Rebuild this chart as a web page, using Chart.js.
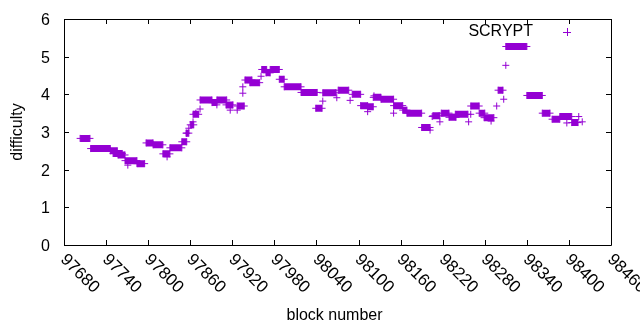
<!DOCTYPE html>
<html>
<head>
<meta charset="utf-8">
<script src="https://cdn.jsdelivr.net/npm/chart.js@4/dist/chart.umd.min.js"></script>
<style>
  html, body { margin: 0; padding: 0; background: #fff; }
  #wrap { width: 640px; height: 330px; }
</style>
</head>
<body>
<div id="wrap"><canvas id="canvas" width="640" height="330"></canvas></div>
<script>
// runs of blocks at the same difficulty (start block, end block, difficulty)
const runStart = [97703, 97718, 97746, 97750, 97757, 97767, 97784, 97797, 97807, 97821,
                  97831, 97848, 97854, 97860, 97864, 97874, 97891, 97898, 97911, 97927,
                  97938, 97945, 97962, 97968, 97974, 97987, 97994, 98018, 98039, 98049,
                  98071, 98091, 98103, 98113, 98121, 98132, 98150, 98163, 98169, 98190,
                  98206, 98218, 98229, 98238, 98260, 98272, 98279, 98299, 98310, 98340,
                  98362, 98376, 98387, 98404];
const runEnd   = [97717, 97746, 97756, 97763, 97767, 97784, 97795, 97807, 97821, 97831,
                  97848, 97855, 97858, 97865, 97872, 97891, 97898, 97912, 97921, 97937,
                  97948, 97959, 97969, 97974, 97987, 97994, 98018, 98041, 98048, 98068,
                  98086, 98103, 98113, 98121, 98132, 98150, 98163, 98169, 98190, 98202,
                  98216, 98229, 98239, 98256, 98272, 98280, 98293, 98306, 98340, 98362,
                  98373, 98387, 98404, 98413];
const runDiff  = [2.83, 2.56, 2.50, 2.43, 2.39, 2.24, 2.16, 2.71, 2.66, 2.42,
                  2.58, 2.74, 2.97, 3.19, 3.47, 3.85, 3.78, 3.85, 3.72, 3.69,
                  4.38, 4.31, 4.66, 4.57, 4.66, 4.40, 4.20, 4.05, 3.63, 4.04,
                  4.11, 4.00, 3.70, 3.67, 3.92, 3.87, 3.70, 3.58, 3.50, 3.12,
                  3.43, 3.50, 3.39, 3.47, 3.69, 3.50, 3.38, 4.11, 5.27, 3.97,
                  3.50, 3.34, 3.41, 3.25];

// single blocks away from the runs
const oddBlock = [97771, 97827, 97855, 97858, 97864, 97868, 97874, 97898, 97917, 97927,
                  97935, 97935, 97961, 98049, 98069, 98088, 98113, 98122, 98150, 98202,
                  98205, 98216, 98257, 98260, 98289, 98297, 98307, 98310, 98397, 98414,
                  98419];
const oddDiff  = [2.12, 2.34, 2.97, 3.10, 3.27, 3.50, 3.61, 3.72, 3.58, 3.58,
                  4.20, 4.03, 4.48, 3.82, 3.91, 3.84, 3.54, 3.96, 3.50, 3.05,
                  3.41, 3.27, 3.27, 3.47, 3.29, 3.69, 3.87, 4.77, 3.24, 3.41,
                  3.27];

const xTicks = [97680, 97740, 97800, 97860, 97920, 97980, 98040, 98100, 98160, 98220, 98280, 98340, 98400, 98460];
const yTicks = [0, 1, 2, 3, 4, 5, 6];

const purple = '#9400d3';
const font = '16px "Liberation Sans", Arial, sans-serif';

// runs as horizontal bars, broken by null points
let runLine = [];
let crossPts = [];
for (let i = 0; i < runStart.length; i++) {
    runLine.push({ x: runStart[i], y: runDiff[i] });
    runLine.push({ x: runEnd[i], y: runDiff[i] });
    runLine.push({ x: runEnd[i], y: null });
    crossPts.push({ x: runStart[i], y: runDiff[i] });
    crossPts.push({ x: runEnd[i], y: runDiff[i] });
}
for (let i = 0; i < oddBlock.length; i++) {
    crossPts.push({ x: oddBlock[i], y: oddDiff[i] });
}

const gnuplotAxes = {
    id: 'gnuplotAxes',
    afterDraw(chart) {
        const ctx = chart.ctx;
        const a = chart.chartArea;
        const xs = chart.scales.x, ys = chart.scales.y;
        ctx.save();
        ctx.strokeStyle = '#000';
        ctx.lineWidth = 1;
        ctx.beginPath();
        ctx.rect(a.left + 0.5, a.top + 0.5, a.right - a.left, a.bottom - a.top);
        // inward ticks, mirrored
        xTicks.forEach(v => {
            const px = Math.round(xs.getPixelForValue(v)) + 0.5;
            ctx.moveTo(px, a.bottom); ctx.lineTo(px, a.bottom - 5);
            ctx.moveTo(px, a.top); ctx.lineTo(px, a.top + 5);
        });
        yTicks.forEach(v => {
            const py = Math.round(ys.getPixelForValue(v)) + 0.5;
            ctx.moveTo(a.left, py); ctx.lineTo(a.left + 5, py);
            ctx.moveTo(a.right, py); ctx.lineTo(a.right - 5, py);
        });
        ctx.stroke();

        ctx.fillStyle = '#000';
        ctx.font = font;
        ctx.textAlign = 'right';
        ctx.textBaseline = 'middle';
        yTicks.forEach(v => {
            ctx.fillText(String(v), a.left - 14, ys.getPixelForValue(v) + 1.5);
        });
        ctx.textAlign = 'left';
        ctx.font = '17px "Liberation Sans", Arial, sans-serif';
        xTicks.forEach(v => {
            ctx.save();
            ctx.translate(xs.getPixelForValue(v) - 1, a.bottom + 12);
            ctx.rotate(Math.PI / 4);
            ctx.fillText(String(v), 0, 0);
            ctx.restore();
        });
        ctx.font = font;

        // axis titles
        ctx.textAlign = 'center';
        ctx.fillText('block number', (a.left + a.right) / 2 - 3, 316);
        ctx.save();
        ctx.translate(18, (a.top + a.bottom) / 2);
        ctx.rotate(-Math.PI / 2);
        ctx.fillText('difficulty', 0, 0);
        ctx.restore();

        // key
        ctx.textAlign = 'right';
        ctx.fillText('SCRYPT', 533, 32);
        ctx.strokeStyle = purple;
        ctx.beginPath();
        ctx.moveTo(563, 32.5); ctx.lineTo(571, 32.5);
        ctx.moveTo(567.5, 28); ctx.lineTo(567.5, 36);
        ctx.stroke();
        ctx.restore();
    }
};

const ctx = document.getElementById('canvas').getContext('2d');
const myChart = new Chart(ctx, {
    type: 'scatter',
    data: {
        datasets: [{
            type: 'line',
            label: 'runs',
            data: runLine,
            borderColor: purple,
            borderWidth: 7,
            borderCapStyle: 'butt',
            pointRadius: 0,
            spanGaps: false,
            fill: false
        }, {
            label: 'SCRYPT',
            data: crossPts,
            pointStyle: 'cross',
            pointRadius: 3.5,
            pointBorderWidth: 1,
            borderColor: purple,
            backgroundColor: purple
        }]
    },
    options: {
        responsive: false,
        animation: false,
        layout: { padding: { left: 64, right: 29, top: 19, bottom: 85 } },
        plugins: { legend: { display: false }, tooltip: { enabled: false } },
        scales: {
            x: { type: 'linear', display: false, min: 97680, max: 98460 },
            y: { type: 'linear', display: false, min: 0, max: 6 }
        }
    },
    plugins: [gnuplotAxes]
});
</script>
</body>
</html>
